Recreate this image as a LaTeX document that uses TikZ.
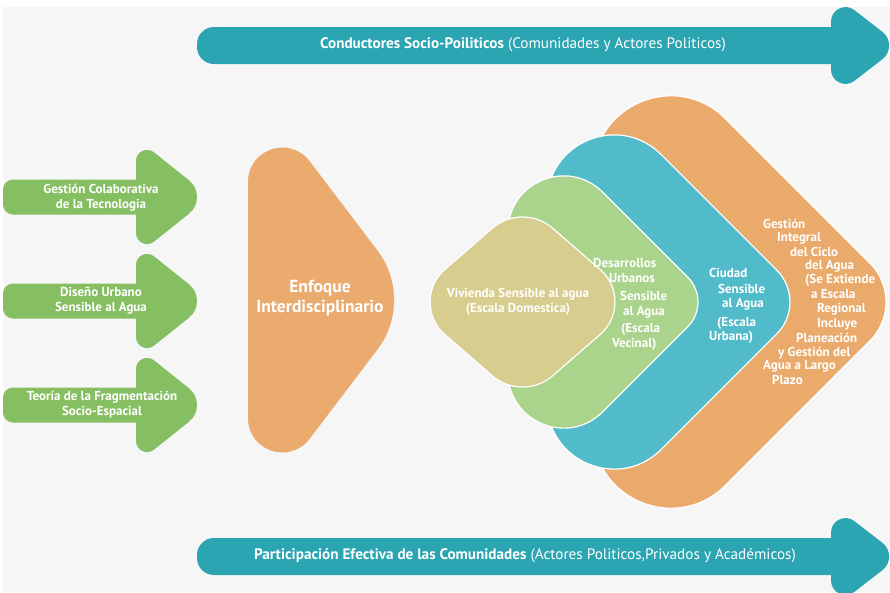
\documentclass[tikz,border=0pt]{standalone}
\usepackage{fontspec}
\setmainfont{PT Sans}
\usetikzlibrary{calc}
\definecolor{cBg}{HTML}{F6F6F6}
\definecolor{cTeal}{HTML}{2AA5B1}
\definecolor{cGreenA}{HTML}{86BE62}
\definecolor{cEnf}{HTML}{EBAB6E}
\definecolor{cKhaki}{HTML}{D6CD8E}
\definecolor{cLGreen}{HTML}{AAD48C}
\definecolor{cBlue}{HTML}{52BBCA}
\definecolor{cOrange}{HTML}{EAAA6C}
\tikzset{
  rc/.style n args={5}{insert path={-- ($(#2)!#4pt!(#1)$) .. controls ($(#2)!#5pt!(#1)$) and ($(#2)!#5pt!(#3)$) .. ($(#2)!#4pt!(#3)$)}},
  layer/.style={draw=white, line width=1.2pt},
  bartext/.style={text=white, font=\fontsize{15.2}{18}\selectfont, inner sep=0pt},
  greentext/.style={text=white, align=center, font=\fontsize{13}{15}\selectfont\bfseries, inner sep=0pt},
  lt/.style={anchor=west, text=white, font=\fontsize{13}{15}\selectfont\bfseries, inner sep=0pt},
}
\begin{document}
\begin{tikzpicture}[x=1pt,y=-1pt]
\useasboundingbox (0,0) rectangle (890,592);
\clip (0,0) rectangle (890,592);
\fill[cBg] (0,0) rectangle (890,592);
\fill[white] (0,0) rectangle (890,7);
\fill[white] (0,0) rectangle (3,592);

% teal arrows
\foreach \dy/\nm in {0/top,511/bot}{
\begin{scope}[shift={(0,\dy)}]
\coordinate (TL) at (197,27);
\coordinate (J1) at (831,27);
\coordinate (HT) at (831,-8);
\coordinate (TIP) at (900,45.5);
\coordinate (HB) at (831,99);
\coordinate (J2) at (831,64);
\coordinate (BL) at (197,64);
\fill[cTeal] ($(TL)!17pt!(J1)$) -- (J1)
  [rc={J1}{HT}{TIP}{29.6}{17.5}]
  [rc={HT}{TIP}{HB}{22.2}{11}]
  [rc={TIP}{HB}{J2}{29.6}{17.5}]
  -- (J2)
  [rc={J2}{BL}{TL}{17}{7.6}]
  [rc={BL}{TL}{J1}{17}{7.6}] -- cycle;
\end{scope}
}
\node[bartext] (conductores) at (523,45) {\textbf{Conductores Socio-Poiliticos} (Comunidades y Actores Politicos)};
\node[bartext] (participacion) at (525,556) {\textbf{Participación Efectiva de las Comunidades} (Actores Politicos,Privados y Académicos)};

% green arrows
\foreach \c in {197,301,405}{
\coordinate (GL1) at (3,\c-17.5);
\coordinate (GJ1) at (136,\c-17.5);
\coordinate (GHT) at (136,\c-59);
\coordinate (GTIP) at (210,\c);
\coordinate (GHB) at (136,\c+59);
\coordinate (GJ2) at (136,\c+17.5);
\coordinate (GBL) at (3,\c+17.5);
\fill[cGreenA] ($(GL1)!10pt!(GJ1)$) -- (GJ1)
  [rc={GJ1}{GHT}{GTIP}{23}{13.7}]
  [rc={GHT}{GTIP}{GHB}{27}{13.2}]
  [rc={GTIP}{GHB}{GJ2}{23}{13.7}]
  -- (GJ2)
  [rc={GJ2}{GBL}{GL1}{10}{4.5}]
  [rc={GBL}{GL1}{GJ1}{10}{4.5}] -- cycle;
}
\node[greentext] (gestion) at (101,197.5) {Gestión Colaborativa\\de la Tecnologia};
\node[greentext] (diseno) at (101,301) {Diseño Urbano\\Sensible al Agua};
\node[greentext] (teoria) at (102,405) {Teoría de la Fragmentación\\Socio-Espacial};

% enfoque
\coordinate (TV) at (248,80);
\coordinate (ETIP) at (415,300);
\coordinate (BV) at (248,520);
\fill[cEnf] ($(TV)!102pt!(ETIP)$)
  [rc={TV}{ETIP}{BV}{62}{25.4}]
  [rc={ETIP}{BV}{TV}{102}{69}]
  [rc={BV}{TV}{ETIP}{102}{69}] -- cycle;
\node[text=white, align=center, font=\fontsize{17.5}{20.5}\selectfont\bfseries, inner sep=0pt] (enfoque) at (320,298) {Enfoque\\Interdisciplinario};

% orange layer
\coordinate (OT) at (593,-13.8);
\coordinate (OP) at (908.8,302);
\coordinate (OB) at (593,617.8);
\path[layer, fill=cOrange] ($(OT)!187.3pt!(OP)$)
  [rc={OT}{OP}{OB}{55}{24.6}]
  [rc={OP}{OB}{OT}{187.3}{118.2}]
  [rc={OB}{OT}{OP}{187.3}{118.2}] -- cycle;
% blue layer
\coordinate (BT) at (547,40.4);
\coordinate (BP) at (808.6,302);
\coordinate (BB) at (547,563.6);
\path[layer, fill=cBlue] ($(BT)!161.5pt!(BP)$)
  [rc={BT}{BP}{BB}{45}{20.2}]
  [rc={BP}{BB}{BT}{161.5}{101.9}]
  [rc={BB}{BT}{BP}{161.5}{101.9}] -- cycle;
% green layer
\coordinate (LT) at (508,97.5);
\coordinate (LP) at (712.5,302);
\coordinate (LB) at (508,506.5);
\path[layer, fill=cLGreen] ($(LT)!134pt!(LP)$)
  [rc={LT}{LP}{LB}{35}{15.7}]
  [rc={LP}{LB}{LT}{134}{84.5}]
  [rc={LB}{LT}{LP}{134}{84.5}] -- cycle;
% vivienda
\coordinate (VL) at (407.5,302);
\coordinate (VT) at (522.5,202);
\coordinate (VR) at (637.5,302);
\coordinate (VB) at (522.5,402);
\path[layer, fill=cKhaki] ($(VL)!49.5pt!(VT)$)
  [rc={VL}{VT}{VR}{40}{17.1}]
  [rc={VT}{VR}{VB}{49.5}{23.4}]
  [rc={VR}{VB}{VL}{40}{17.1}]
  [rc={VB}{VL}{VT}{49.5}{23.4}] -- cycle;
\node[text=white, align=center, font=\fontsize{13}{15}\selectfont\bfseries, inner sep=0pt] (vivienda) at (518,302) {Vivienda Sensible al agua\\(Escala Domestica)};

% green layer text
\node[lt] (d1) at (593,263) {Desarrollos};
\node[lt] (d2) at (609,278) {Urbanos};
\node[lt] (d3) at (620,296) {Sensible};
\node[lt] (d4) at (623,312) {al Agua};
\node[lt] (d5) at (621,329) {(Escala};
\node[lt] (d6) at (612,344) {Vecinal)};

% blue layer text
\node[lt] (c1) at (709,273) {Ciudad};
\node[lt] (c2) at (718,289) {Sensible};
\node[lt] (c3) at (722,304) {al Agua};
\node[lt] (c4) at (717,323) {(Escala};
\node[lt] (c5) at (709,337) {Urbana)};

% orange layer text
\node[lt] (o1) at (763,224) {Gestión};
\node[lt] (o2) at (777,238) {Integral};
\node[lt] (o3) at (790,252) {del Ciclo};
\node[lt] (o4) at (805,266) {del Agua};
\node[lt] (o5) at (805,280) {(Se Extiende};
\node[lt] (o6) at (811,294) {a Escala};
\node[lt] (o7) at (817,309) {Regional};
\node[lt] (o8) at (817,324) {Incluye};
\node[lt] (o9) at (796,338) {Planeación};
\node[lt] (o10) at (778,353) {y Gestión del};
\node[lt] (o11) at (763,366) {Agua a Largo};
\node[lt] (o12) at (772,380) {Plazo};
\end{tikzpicture}
\end{document}
